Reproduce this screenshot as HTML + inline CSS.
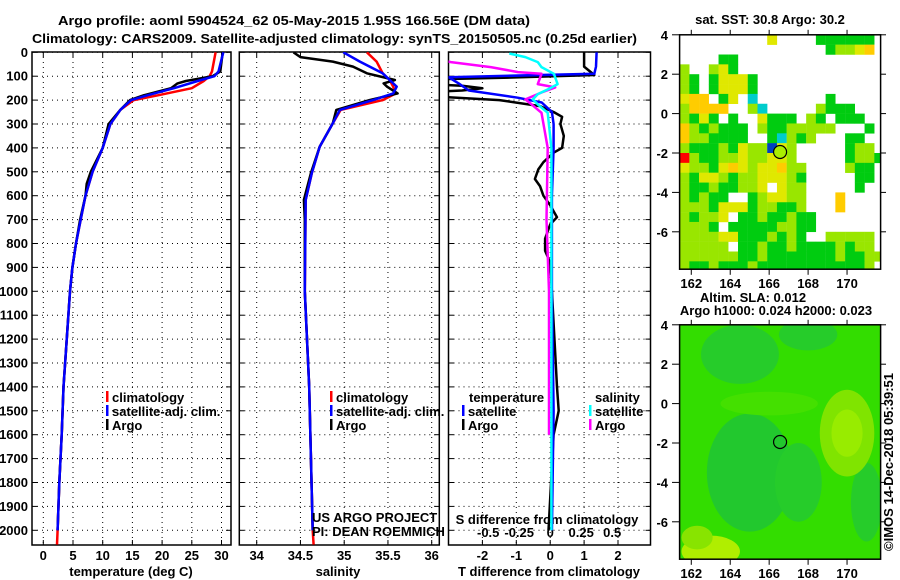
<!DOCTYPE html>
<html><head><meta charset="utf-8"><style>
html,body{margin:0;padding:0;background:#fff;}
svg{display:block;font-family:"Liberation Sans",Arial,sans-serif;}
.b{font-weight:bold;font-size:13px;}
</style></head><body>
<svg id="s" width="900" height="580" viewBox="0 0 900 580" xmlns="http://www.w3.org/2000/svg">
<defs>
<clipPath id="c1"><rect x="32" y="52" width="199" height="493"/></clipPath>
<clipPath id="c2"><rect x="239.3" y="52" width="200" height="493"/></clipPath>
<clipPath id="c3"><rect x="448.5" y="52" width="202" height="493"/></clipPath>
<clipPath id="cm1"><rect x="679.6" y="34.8" width="201" height="234.4"/></clipPath>
<clipPath id="cm2"><rect x="679.6" y="324.8" width="201" height="234.4"/></clipPath>
</defs>
<text x="58" y="25" textLength="472" lengthAdjust="spacingAndGlyphs" class="b" font-size="15">Argo profile: aoml 5904524_62 05-May-2015 1.95S 166.56E (DM data)</text>
<text x="32" y="43" textLength="605" lengthAdjust="spacingAndGlyphs" class="b" font-size="15">Climatology: CARS2009. Satellite-adjusted climatology: synTS_20150505.nc (0.25d earlier)</text>
<g id="g"></g>
</svg>
<script>
// ---------- data ----------
const depthTicks=[0,100,200,300,400,500,600,700,800,900,1000,1100,1200,1300,1400,1500,1600,1700,1800,1900,2000];
const tempTicks=[0,5,10,15,20,25,30];
const salTicks=[34,34.5,35,35.5,36];
const salTickLabels=["34","34.5","35","35.5","36"];
const tdTicks=[-2,-1,0,1,2];
const sdTicks=[-0.5,-0.25,0,0.25,0.5];
const sdTickLabels=["-0.5","-0.25","0","0.25","0.5"];

const tClimDepth=[0,80,100,120,150,180,200,240,300,400,500,600,700,800,900,1000,1400,1600,1800,2000,2060];
const tClimVal=[29.0,28.4,28.0,27.0,25.0,19.3,15.2,13.0,11.3,10.0,8.3,7.1,6.3,5.5,4.9,4.5,3.4,3.1,2.7,2.4,2.3];
const tSatDepth=[0,80,100,120,150,180,200,240,300,400,500,600,700,800,900,1000,1400,1600,1800,2000];
const tSatVal=[30.3,29.5,28.8,26.0,22.0,17.5,14.8,13.0,11.3,10.0,8.3,7.1,6.3,5.5,4.9,4.5,3.4,3.1,2.7,2.4];
const tArgoDepth=[0,80,100,120,130,150,180,200,240,300,400,500,550,600,700,800,900,1000,1400,1600,1800,2000];
const tArgoVal=[30.2,29.8,28.5,24.0,22.6,21.5,16.9,14.6,13.0,11.0,10.0,8.0,7.3,7.1,6.2,5.5,4.9,4.5,3.4,3.1,2.7,2.4];

const sClimDepth=[0,39,88,116,144,172,200,241,297,395,506,617,1000,1400,2000,2060];
const sClimVal=[35.26,35.37,35.44,35.52,35.56,35.59,35.44,34.96,34.87,34.72,34.63,34.56,34.55,34.6,34.64,34.65];
const sSatDepth=[0,39,88,116,144,172,200,241,297,395,506,617,1000,1400,2000];
const sSatVal=[34.99,35.18,35.44,35.52,35.6,35.56,35.33,34.95,34.87,34.72,34.63,34.56,34.55,34.6,34.64];
const sArgoDepth=[0,20,39,60,88,116,130,144,172,200,241,297,395,506,617,700,1000,1400,2000];
const sArgoVal=[34.42,34.5,34.87,35.1,35.26,35.58,35.45,35.49,35.61,35.29,34.91,34.87,34.72,34.62,34.54,34.55,34.55,34.6,34.64];

const dtSatDepth=[0,60,90,104,130,160,190,210,250,300,400,600,1000,1500,2000];
const dtSatVal=[1.37,1.35,1.3,-3.0,-2.7,-2.4,-0.96,-0.25,0.05,0.1,0.1,0.05,0.05,0.1,0.05];
const dtArgoDepth=[0,60,95,105,115,130,140,150,160,168,180,200,225,250,270,300,350,400,420,460,490,530,560,600,640,690,720,780,830,880,1000,1400,1500,1600,2000];
const dtArgoVal=[1.0,1.0,1.3,-1.0,-4.0,-4.0,-2.6,-2.0,-2.6,-4.0,-4.0,-1.5,-0.3,0.1,0.35,0.3,0.4,0.35,0.1,-0.2,-0.35,-0.45,-0.3,-0.2,0.0,0.2,0.0,-0.15,-0.15,0.0,0.05,0.2,0.25,0.1,-0.05];
const dsSatDepth=[5,20,41,62,90,133,150,175,197,218,253,400,1000,2000];
const dsSatVal=[-0.33,-0.2,-0.1,-0.07,0.03,0.06,0.0,-0.1,-0.14,-0.1,-0.02,0.01,0.01,0.01];
const dsArgoDepth=[20,41,62,83,90,133,147,168,197,218,253,400,700,1000,1600];
const dsArgoVal=[-1.0,-0.8,-0.48,-0.26,-0.07,-0.1,0.04,-0.07,-0.2,-0.15,-0.07,-0.02,-0.03,-0.01,-0.01];

// SST map grid (0.5 deg cells, rows from 4N southward, cols from 161.4E)
const sstRows=[
".........y....gggggg.",
"...............gllyo.",
"....gg...............",
"l..lyg...............",
"lg.gyyyg.............",
"lg.gyyyg.............",
"yoo.gy.c.......g.....",
"loooo..lc.....lggg...",
"lgyg.g..yggg.lg.ggg..",
"olglggg.lgglllll...g.",
"ollgggg..gclgl...gg..",
"lggglgyllbyl.....gll.",
"rlggllyllyyl.....gllg",
"yllgyoylyyoll....lgg.",
"lgyylgllyyylg.....gg.",
"lgglgglly.yll.....g..",
"lglgg..glyyll...o....",
"lllgyyygllggl...o....",
"lglly.gglgglgg.......",
"lllg.gggggllgg.......",
"llllyyggglglg..lllll.",
"lllll.gglgglgggglgll.",
"llllllgglggggggglggll",
"lgglggglgggggggggggl."];
const sstColors={g:"#00cc10",l:"#99e600",y:"#e0e800",o:"#ffcc00",c:"#00cccc",r:"#ff0000",b:"#0040c0"};
// SLA field blobs
const slaLon=[165,164.5,168,167.5,171,166,170,170,163,162.3];
const slaLat=[-3.5,2.5,3.5,-4,-5,0,-1.5,-1.5,-7.5,-6.8];
const slaRx=[2.2,2,1.5,1.2,0.8,2.5,1.4,0.8,1.5,0.8];
const slaRy=[3,1.5,0.8,2,2,0.6,2.2,1.2,0.8,0.6];
const slaCol=["#22c82e","#26cc2a","#26cc2a","#26cc2a","#26cc2a","#44e000","#80e400","#98ec00","#b0ee00","#88e400"];
const argoLon=166.56, argoLat=-1.95;
const mapLonTicks=[162,164,166,168,170];
const mapLatTicks=[4,2,0,-2,-4,-6];

// ---------- helpers ----------
const NS="http://www.w3.org/2000/svg";
const G=document.getElementById('g');
function mk(tag,at,par){const e=document.createElementNS(NS,tag);for(const k in at)e.setAttribute(k,at[k]);(par||G).appendChild(e);return e;}
const yD=d=>52.3+d*0.239;
const xT=t=>43.3+t*5.94;
const xS=s=>256.7+(s-34)*87.5;
const xDT=t=>550.2+t*33.9;
const xDS=s=>550.2+s*124;
const panels=[[32,231],[239.3,439.3],[448.5,650.5]];
const PT=52,PB=545;

panels.forEach((p,i)=>{
  const fr=mk('rect',{x:p[0],y:PT,width:p[1]-p[0],height:PB-PT,fill:'none',stroke:'#000','stroke-width':1.5});
  
  
  depthTicks.forEach(d=>{
    const l=mk('line',{x1:p[0],x2:p[1],y1:yD(d),y2:yD(d),stroke:'#000','stroke-dasharray':'1,4','stroke-width':1});
    
    
    mk('line',{x1:p[0],x2:p[0]+5,y1:yD(d),y2:yD(d),stroke:'#000'});
    mk('line',{x1:p[1]-5,x2:p[1],y1:yD(d),y2:yD(d),stroke:'#000'});
  });
});
depthTicks.forEach(d=>{
  const t=mk('text',{x:28,y:yD(d)+4.5,'text-anchor':'end',class:'b'});t.textContent=d;
  
  
});
function vgrid(ticks,fx,p,labels,ly){
  ticks.forEach((v,i)=>{
    const x=fx(v);
    const l=mk('line',{x1:x,x2:x,y1:PT,y2:PB,stroke:'#000','stroke-dasharray':'1,4'});
    
    
    mk('line',{x1:x,x2:x,y1:PB-5,y2:PB,stroke:'#000'});
    mk('line',{x1:x,x2:x,y1:PT,y2:PT+5,stroke:'#000'});
    if(labels){const t=mk('text',{x:x,y:ly,'text-anchor':'middle',class:'b'});t.textContent=labels[i];
      
      }
  });
}
vgrid(tempTicks,xT,panels[0],tempTicks.map(String),560);
vgrid(salTicks,xS,panels[1],salTickLabels,560);
vgrid(tdTicks,xDT,panels[2],tdTicks.map(String),560);
sdTicks.forEach((v,i)=>{const t=mk('text',{x:xDS(v),y:537,'text-anchor':'middle',class:'b'});t.textContent=sdTickLabels[i];
  
  });
function label(txt,x,y,name,anchor,extra){const t=mk('text',Object.assign({x:x,y:y,'text-anchor':anchor||'middle',class:'b'},extra||{}));t.textContent=txt;
  
  return t;}
label('temperature (deg C)',131,576,'x-axis-title-temperature');
label('salinity',338,576,'x-axis-title-salinity');
label('T difference from climatology',549,576,'x-axis-title-t-diff');
label('S difference from climatology',547,524,'s-diff-axis-title');

function series(dep,val,fx,col,clip,name,w){
  const pts=dep.map((d,i)=>fx(val[i]).toFixed(1)+','+yD(d).toFixed(1)).join(' ');
  const pl=mk('polyline',{points:pts,fill:'none',stroke:col,'stroke-width':w||2.5,'clip-path':'url(#'+clip+')','stroke-linejoin':'round'});
  
  
}
series(tClimDepth,tClimVal,xT,'#ff0000','c1','temp-climatology-line');
series(tArgoDepth,tArgoVal,xT,'#000','c1','temp-argo-line');
series(tSatDepth,tSatVal,xT,'#0000ff','c1','temp-satellite-line');
series(sClimDepth,sClimVal,xS,'#ff0000','c2','sal-climatology-line');
series(sArgoDepth,sArgoVal,xS,'#000','c2','sal-argo-line');
series(sSatDepth,sSatVal,xS,'#0000ff','c2','sal-satellite-line');
series(dtArgoDepth,dtArgoVal,xDT,'#000','c3','tdiff-argo-line');
series(dtSatDepth,dtSatVal,xDT,'#0000ff','c3','tdiff-satellite-line');
series(dsArgoDepth,dsArgoVal,xDS,'#ff00ff','c3','sdiff-argo-line');
series(dsSatDepth,dsSatVal,xDS,'#00ffff','c3','sdiff-satellite-line');

function legend(x,y,col,txt,name){
  const r=mk('rect',{x:x,y:y-11,width:2.5,height:11,fill:col});
  
  
  label(txt,x+6,y,name,'start');
}
legend(106,402,'#ff0000','climatology','legend-climatology');
legend(106,416,'#0000ff','satellite-adj. clim.','legend-satellite');
legend(106,430,'#000','Argo','legend-argo');
legend(330,402,'#ff0000','climatology','legend-sal-climatology');
legend(330,416,'#0000ff','satellite-adj. clim.','legend-sal-satellite');
legend(330,430,'#000','Argo','legend-sal-argo');
label('temperature',469,402,'legend-temperature-heading','start');
legend(462,416,'#0000ff','satellite','legend-tdiff-satellite');
legend(462,430,'#000','Argo','legend-tdiff-argo');
label('salinity',595,402,'legend-salinity-heading','start');
legend(589,416,'#00ffff','satellite','legend-sdiff-satellite');
legend(589,430,'#ff00ff','Argo','legend-sdiff-argo');
label('US ARGO PROJECT',312,522,'project-credit','start',{'font-weight':'normal','font-size':'12'});
label('PI: DEAN ROEMMICH',312,536,'pi-credit','start',{'font-weight':'normal','font-size':'12'});

// ---------- maps ----------
const mX=l=>679.6+(l-161.4)*19.47;
function mY(lat,top){return top+(4-lat)*19.7;}
function mapFrame(top,clip,name){
  const g=mk('g',{'clip-path':'url(#'+clip+')'});
  
  
  return g;
}
const g1=mapFrame(34.8,'cm1','sst-map');
mk('rect',{x:679.6,y:34.8,width:201,height:234.4,fill:'#fff'},g1);
sstRows.forEach((row,r)=>{
  for(let c=0;c<row.length;c++){
    const ch=row[c]; if(ch==='.')continue;
    const cell=mk('rect',{x:mX(161.4+0.5*c),y:mY(4-0.5*r,34.8),width:9.9,height:10.1,fill:sstColors[ch]},g1);
    
    
  }
});
const c1=mk('circle',{cx:mX(argoLon),cy:mY(argoLat,34.8),r:6.5,fill:'#aaee00',stroke:'#000','stroke-width':1.2});


const g2=mapFrame(324.8,'cm2','sla-map');
mk('rect',{x:679.6,y:324.8,width:201,height:234.4,fill:'#33dd00'},g2);
slaLon.forEach((l,i)=>{
  const e=mk('ellipse',{cx:mX(l),cy:mY(slaLat[i],324.8),rx:slaRx[i]*19.47,ry:slaRy[i]*19.7,fill:slaCol[i]},g2);
  
  
});
const c2=mk('circle',{cx:mX(argoLon),cy:mY(argoLat,324.8),r:6.5,fill:'none',stroke:'#000','stroke-width':1.2});


[34.8,324.8].forEach((top,k)=>{
  const fr=mk('rect',{x:679.6,y:top,width:201,height:234.4,fill:'none',stroke:'#000','stroke-width':1.5});
  
  
  mapLatTicks.forEach(v=>{const y=mY(v,top);
    mk('line',{x1:672,x2:679.6,y1:y,y2:y,stroke:'#000'});
    mk('line',{x1:880.6,x2:886,y1:y,y2:y,stroke:'#000'});
    label(String(v),668,y+5,'map-lat-label','end');});
  mapLonTicks.forEach(v=>{const x=mX(v);
    mk('line',{x1:x,x2:x,y1:top+234.4,y2:top+240,stroke:'#000'});
    mk('line',{x1:x,x2:x,y1:top-5,y2:top,stroke:'#000'});
    label(String(v),x,top+253,'map-lon-label');});
});
label('sat. SST: 30.8  Argo: 30.2',770,24,'sst-map-title');
label('Altim. SLA: 0.012',753,302,'sla-map-title');
label('Argo h1000: 0.024 h2000: 0.023',776,315,'sla-map-subtitle');
label('©IMOS 14-Dec-2018 05:39:51',0,0,'timestamp','middle',{'font-weight':'normal','font-size':'13',transform:'translate(893,462) rotate(-90)'});
</script>
</body></html>
